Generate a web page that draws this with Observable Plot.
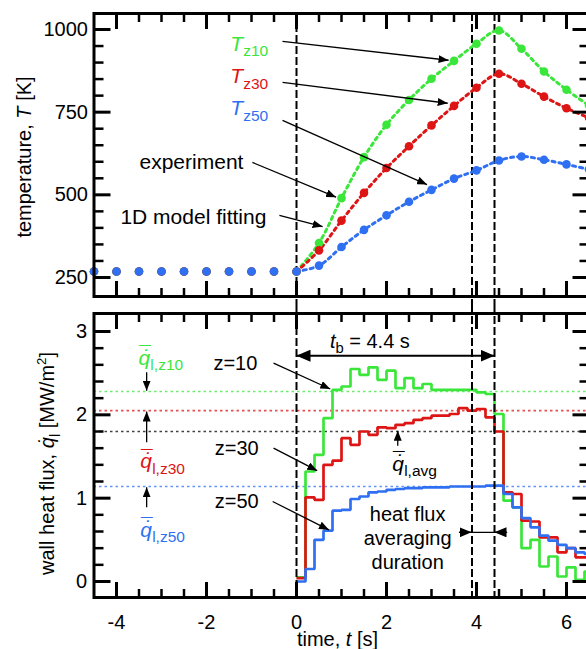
<!DOCTYPE html>
<html><head><meta charset="utf-8">
<script src="https://cdn.jsdelivr.net/npm/d3@7"></script>
<script src="https://cdn.jsdelivr.net/npm/@observablehq/plot@0.6"></script>
<style>
html,body{margin:0;padding:0;background:#fff;overflow:hidden;}
#wrap{position:relative;width:592px;height:649px;}
#wrap svg{position:absolute;left:0;max-width:none !important;overflow:visible;background:transparent;}
</style></head><body><div id="wrap"></div>
<script>
// ---------- data ----------
const tempTimes = [-4.5,-4,-3.5,-3,-2.5,-2,-1.5,-1,-0.5,0,0.5,1,1.5,2,2.5,3,3.5,4,4.5,5,5.5,6,6.5];
const tempZ10 = [268,268,268,268,268,268,268,268,268,268,354,490,614,712,787,851,905,957,997,942,873,818,770];
const tempZ30 = [268,268,268,268,268,268,268,268,268,268,332,422,506,581,647,710,769,824,866,836,797,762,733];
const tempZ50 = [268,268,268,268,268,268,268,268,268,268,286,342,394,438,479,515,549,574,604,616,606,592,577];

const stepTimes = [0,0.2,0.4,0.6,0.8,1.0,1.2,1.4,1.6,1.8,2.0,2.2,2.4,2.6,2.8,3.0,3.2,3.4,3.6,3.8,4.0,4.2,4.4,4.6,4.8,5.0,5.2,5.4,5.6,5.8,6.0,6.2,6.4,6.5];
const fluxZ10 = [0.05,1.32,1.52,1.96,2.30,2.34,2.55,2.48,2.57,2.42,2.53,2.32,2.44,2.32,2.37,2.30,2.30,2.30,2.30,2.30,2.27,2.25,2.01,0.97,0.89,0.40,0.50,0.18,0.30,0.06,0.17,0.02,0.12,0.12];
const fluxZ30 = [0.04,1.01,0.98,1.40,1.45,1.72,1.64,1.80,1.76,1.85,1.84,1.88,1.90,1.94,1.96,1.99,1.99,2.01,2.08,2.05,2.07,1.97,1.80,1.07,1.05,0.73,0.72,0.53,0.53,0.35,0.40,0.29,0.29,0.29];
const fluxZ50 = [0.00,0.15,0.50,0.61,0.85,0.86,0.99,1.02,1.07,1.08,1.10,1.11,1.12,1.12,1.13,1.13,1.13,1.14,1.14,1.14,1.14,1.15,1.15,1.05,0.89,0.76,0.65,0.55,0.49,0.44,0.40,0.35,0.33,0.33];
const avgFluxZ10 = 2.28, avgFluxZ30 = 2.05, avgFluxAll = 1.80, avgFluxZ50 = 1.14;

const markerTimes = [0, 3.9, 4.4];           // t = 0, averaging start, t_b
const xTickLabels = [-4,-2,0,2,4,6];
const xMinorTicks = [-3.5,-3,-2.5,-1.5,-1,-0.5,0.5,1,1.5,2.5,3,3.5,4.5,5,5.5,6.5];
const tempTickLabels = [250,500,750,1000];
const tempMinorTicks = [300,350,400,450,550,600,650,700,800,850,900,950];
const fluxTickLabels = [0,1,2,3];
const fluxMinorTicks = [0.2,0.4,0.6,0.8,1.2,1.4,1.6,1.8,2.2,2.4,2.6,2.8];

// ---------- annotations (data units) ----------
const tempLabelPos = [{t:-1.47,T:936,s:"*T*_{z10}"},{t:-1.47,T:837,s:"*T*_{z30}"},{t:-1.47,T:740,s:"*T*_{z50}"}];
const tempNotes = [{t:-1.18,T:598,s:"experiment"},{t:-0.67,T:431,s:"1D model fitting"}];
const tempArrows = [
  {t1:-0.31,T1:964,t2:3.38,T2:907},
  {t1:-0.31,T1:840,t2:3.36,T2:777},
  {t1:-0.31,T1:725,t2:2.90,T2:531},
  {t1:-0.98,T1:598,t2:0.88,T2:493},
  {t1:-0.38,T1:438,t2:0.58,T2:404}];

const qLabels = [{t:-3.51,q:2.60,s:"*q\u0307\u0304*_{l,z10}"},{t:-3.47,q:1.36,s:"*q\u0307\u0304*_{l,z30}"},{t:-3.47,q:0.54,s:"*q\u0307\u0304*_{l,z50}"}];
const qArrows = [{t:-3.33,q1:2.51,q2:2.29},{t:-3.33,q1:1.67,q2:2.04},{t:-3.33,q1:0.89,q2:1.13}];
const zLabels = [{t:-0.87,q:2.62,s:"z=10"},{t:-0.84,q:1.59,s:"z=30"},{t:-0.84,q:0.96,s:"z=50"}];
const zArrows = [{t1:-0.51,q1:2.62,t2:0.75,q2:2.31},{t1:-0.51,q1:1.60,t2:0.46,q2:1.33},{t1:-0.53,q1:0.96,t2:0.72,q2:0.62}];
const tbArrow = [{t1:0,t2:4.4,q:2.71}];
const tbLabel = [{t:1.63,q:2.80,s:"*t*_{b} = 4.4 s"}];
const avgSpan = [{t1:3.61,t2:4.68,q:0.59}];
const avgArrows = [{t1:3.61,t2:3.89,q:0.59},{t1:4.68,t2:4.40,q:0.59}];
const avgNote = [{t:2.47,q:0.53,s:"heat flux\naveraging\nduration"}];
const qAvgLabel = [{t:2.13,q:1.33,s:"*q\u0307\u0304*_{l,avg}"}];
const qAvgArrow = [{t:2.25,q1:1.63,q2:1.81}];

// ---------- styles ----------
const GREEN = "#3be63b", RED = "#dd1515", BLUE = "#2f6ff2";
const FONT = "'Liberation Sans', Arial, Helvetica, sans-serif";
const W = 592, ML = 93.5, MR = 3.5;
const noText = () => "";

function frameTicks(yMaj, yMin) {
  const o = {tickFormat: noText, label: null, strokeLinecap: "butt"};
  return [
    Plot.axisX(xTickLabels, {...o, anchor: "top", tickSize: -15, strokeWidth: 3}),
    Plot.axisX(xMinorTicks, {...o, anchor: "top", tickSize: -8, strokeWidth: 2.5}),
    Plot.axisX(xTickLabels, {...o, anchor: "bottom", tickSize: -15, strokeWidth: 3}),
    Plot.axisX(xMinorTicks, {...o, anchor: "bottom", tickSize: -8, strokeWidth: 2.5}),
    Plot.axisY(yMaj, {...o, anchor: "left", tickSize: -17, strokeWidth: 3}),
    Plot.axisY(yMin, {...o, anchor: "left", tickSize: -10, strokeWidth: 2.5}),
    Plot.axisY(yMaj, {...o, anchor: "right", tickSize: -17, strokeWidth: 3}),
    Plot.axisY(yMin, {...o, anchor: "right", tickSize: -10, strokeWidth: 2.5})
  ];
}

// ---------- top panel ----------
const tempSeries = [{v: tempZ10, c: GREEN}, {v: tempZ30, c: RED}, {v: tempZ50, c: BLUE}];
const tempRows = v => tempTimes.map((t, i) => ({t, T: v[i]}));
const tempColors = [GREEN, RED, BLUE];

const topPlot = Plot.plot({
  width: W, height: 305, marginTop: 13, marginBottom: 9, marginLeft: ML, marginRight: MR,
  style: {fontFamily: FONT, fontSize: "20px", background: "transparent"},
  x: {domain: [-4.5, 6.5]},
  y: {domain: [192.5, 1048.4]},
  marks: [
    Plot.ruleX(markerTimes, {stroke: "black", strokeWidth: 2, strokeDasharray: "8,3", insetBottom: -9}),
    ...tempSeries.map(s => Plot.line(tempRows(s.v).filter(d => d.t >= 0), {x: "t", y: "T", stroke: s.c, strokeWidth: 3, strokeDasharray: "3,4", curve: "catmull-rom"})),
    ...tempSeries.map(s => Plot.dot(tempRows(s.v), {x: "t", y: "T", r: 4.3, fill: s.c})),
    Plot.link(tempArrows, {x1: "t1", y1: "T1", x2: "t2", y2: "T2", stroke: "black", strokeWidth: 1.3}),
    ...tempLabelPos.map((d, i) => Plot.text([d], {x: "t", y: "T", text: "s", fill: tempColors[i], fontSize: 21, textAnchor: "start", lineAnchor: "bottom"})),
    Plot.text(tempNotes, {x: "t", y: "T", text: "s", fill: "black", fontSize: 21, textAnchor: "end", lineAnchor: "middle"}),
    Plot.axisY(tempTickLabels, {anchor: "left", tickSize: 0, tickPadding: 6, fontSize: 20, label: null, tickFormat: d => String(d)}),
    Plot.text(["temperature, *T* [K]"], {text: d => d, frameAnchor: "left", textAnchor: "middle", lineAnchor: "middle", rotate: -90, dx: -69, dy: 2, fontSize: 20}),
    ...frameTicks(tempTickLabels, tempMinorTicks),
    Plot.frame({stroke: "black", strokeWidth: 3})
  ]
});
topPlot.style.top = "0px";

// ---------- bottom panel ----------
const fluxSeries = [{v: fluxZ10, c: GREEN}, {v: fluxZ30, c: RED}, {v: fluxZ50, c: BLUE}];
const fluxRows = v => stepTimes.map((t, i) => ({t, q: v[i]}));
const avgLines = [{q: avgFluxZ10, c: GREEN}, {q: avgFluxZ30, c: RED}, {q: avgFluxAll, c: "black"}, {q: avgFluxZ50, c: BLUE}];
const qColors = [GREEN, RED, BLUE];

const bottomPlot = Plot.plot({
  width: W, height: 344, marginTop: 8, marginBottom: 52, marginLeft: ML, marginRight: MR,
  style: {fontFamily: FONT, fontSize: "20px", background: "transparent"},
  x: {domain: [-4.5, 6.5]},
  y: {domain: [-0.192, 3.216]},
  marks: [
    ...avgLines.map(a => Plot.ruleY([a.q], {stroke: a.c, strokeWidth: 1.6, strokeDasharray: "2.5,3", strokeOpacity: 0.75})),
    ...fluxSeries.map(s => Plot.line(fluxRows(s.v), {x: "t", y: "q", curve: "step-after", stroke: s.c, strokeWidth: 2.7, strokeLinejoin: "miter", strokeLinecap: "butt"})),
    Plot.ruleX(markerTimes, {stroke: "black", strokeWidth: 2, strokeDasharray: "8,3", insetTop: -8}),
    Plot.link(qArrows, {x1: "t", y1: "q1", x2: "t", y2: "q2", stroke: "black", strokeWidth: 1.3}),
    Plot.link(zArrows, {x1: "t1", y1: "q1", x2: "t2", y2: "q2", stroke: "black", strokeWidth: 1.3}),
    Plot.link(tbArrow, {x1: "t1", y1: "q", x2: "t2", y2: "q", stroke: "black", strokeWidth: 2}),
    Plot.link(avgSpan, {x1: "t1", y1: "q", x2: "t2", y2: "q", stroke: "black", strokeWidth: 1.3}),
    Plot.link(avgArrows, {x1: "t1", y1: "q", x2: "t2", y2: "q", stroke: "black", strokeWidth: 1.3}),
    Plot.link(qAvgArrow, {x1: "t", y1: "q1", x2: "t", y2: "q2", stroke: "black", strokeWidth: 1.3}),
    ...qLabels.map((d, i) => Plot.text([d], {x: "t", y: "q", text: "s", fill: qColors[i], fontSize: 21, textAnchor: "start", lineAnchor: "bottom"})),
    Plot.text(qAvgLabel, {x: "t", y: "q", text: "s", fill: "black", fontSize: 21, textAnchor: "start", lineAnchor: "bottom"}),
    Plot.text(zLabels, {x: "t", y: "q", text: "s", fill: "black", fontSize: 20, textAnchor: "end", lineAnchor: "middle"}),
    Plot.text(tbLabel, {x: "t", y: "q", text: "s", fill: "black", fontSize: 20, textAnchor: "middle", lineAnchor: "bottom"}),
    Plot.text(avgNote, {x: "t", y: "q", text: "s", fill: "black", fontSize: 20, textAnchor: "middle", lineAnchor: "middle", lineHeight: 1.2}),
    Plot.axisY(fluxTickLabels, {anchor: "left", tickSize: 0, tickPadding: 7, fontSize: 20, label: null, tickFormat: d => String(d)}),
    Plot.axisX(xTickLabels, {anchor: "bottom", tickSize: 0, tickPadding: 17, fontSize: 20, label: null, tickFormat: d => String(d)}),
    Plot.text(["wall heat flux, *q\u0307*_{l} [MW/m^{2}]"], {text: d => d, frameAnchor: "left", textAnchor: "middle", lineAnchor: "middle", rotate: -90, dx: -46, dy: 8, fontSize: 20}),
    Plot.text(["time, *t* [s]"], {text: d => d, frameAnchor: "bottom", textAnchor: "middle", lineAnchor: "middle", dx: -4, dy: 42, fontSize: 20}),
    ...frameTicks(fluxTickLabels, fluxMinorTicks),
    Plot.frame({stroke: "black", strokeWidth: 3})
  ]
});
bottomPlot.style.top = "305px";

const wrap = document.getElementById("wrap");
wrap.appendChild(topPlot);
wrap.appendChild(bottomPlot);

// ---------- arrowheads (filled markers) ----------
const NS = "http://www.w3.org/2000/svg";
function addMarkers(svg) {
  const defs = document.createElementNS(NS, "defs");
  const specs = [["ah", 10, 8], ["ahM", 12, 10], ["ahL", 14, 12]];
  for (const [id, l, w] of specs) {
    for (const rev of [false, true]) {
      const m = document.createElementNS(NS, "marker");
      m.setAttribute("id", id + (rev ? "r" : ""));
      m.setAttribute("markerUnits", "userSpaceOnUse");
      m.setAttribute("markerWidth", l);
      m.setAttribute("markerHeight", w);
      m.setAttribute("viewBox", `0 0 ${l} ${w}`);
      m.setAttribute("refX", l);
      m.setAttribute("refY", w / 2);
      m.setAttribute("orient", rev ? "auto-start-reverse" : "auto");
      const p = document.createElementNS(NS, "path");
      p.setAttribute("d", `M0,0L${l},${w / 2}L0,${w}Z`);
      p.setAttribute("fill", "black");
      m.appendChild(p);
      defs.appendChild(m);
    }
  }
  svg.insertBefore(defs, svg.firstChild);
}
addMarkers(topPlot); addMarkers(bottomPlot);
function setMarkers(svg, spec) {
  const groups = svg.querySelectorAll('g[aria-label="link"]');
  spec.forEach((s, i) => {
    if (!s || !groups[i]) return;
    groups[i].querySelectorAll("path, line").forEach(p => {
      if (s.end) p.setAttribute("marker-end", `url(#${s.end})`);
      if (s.start) p.setAttribute("marker-start", `url(#${s.start}r)`);
    });
  });
}
setMarkers(topPlot, [{end: "ah"}]);
setMarkers(bottomPlot, [{end: "ah"}, {end: "ah"}, {end: "ahL", start: "ahL"}, null, {end: "ahM"}, {end: "ah"}]);

// ---------- rich text: *italic*, _{sub}, ^{sup}, q with dot / dot+bar ----------
function richify(svg) {
  svg.querySelectorAll("text").forEach(el => {
    if (el.querySelector("tspan")) return;
    const s = el.textContent;
    if (!/[*_^\u0307]/.test(s)) return;
    const fs = parseFloat(getComputedStyle(el).fontSize) || 20;
    el.textContent = "";
    let shift = 0, pendingDx = 0;
    function span(text, {italic = false, size = null, target = 0, dx = 0} = {}) {
      const ts = document.createElementNS(NS, "tspan");
      ts.textContent = text;
      if (italic) ts.setAttribute("font-style", "italic");
      if (size) ts.setAttribute("font-size", size);
      if (target !== shift) { ts.setAttribute("dy", target - shift); shift = target; }
      const d = dx + pendingDx; pendingDx = 0;
      if (d) ts.setAttribute("dx", d);
      el.appendChild(ts);
    }
    function seg(text, o) {
      const S = o.size || fs;
      const re2 = /q\u0307(\u0304)?/g;
      let last = 0, m2;
      while ((m2 = re2.exec(text))) {
        if (m2.index > last) span(text.slice(last, m2.index), o);
        span("q", o);
        span("\u02D9", {...o, target: o.target - 0.06 * S, dx: -0.42 * S});
        if (m2[1]) {
          span("\u00AF", {...o, italic: false, target: o.target - 0.22 * S, dx: -0.44 * S});
          pendingDx = -0.02 * S;
        } else {
          pendingDx = 0.09 * S;
        }
        last = re2.lastIndex;
      }
      if (last < text.length) span(text.slice(last), o);
    }
    const re = /\*([^*]+)\*|_\{([^}]*)\}|\^\{([^}]*)\}|([^*_^]+)/g;
    let m;
    while ((m = re.exec(s))) {
      if (m[1] !== undefined) seg(m[1], {italic: true, target: 0});
      else if (m[2] !== undefined) seg(m[2], {target: 0.26 * fs, size: 0.74 * fs});
      else if (m[3] !== undefined) seg(m[3], {target: -0.4 * fs, size: 0.66 * fs});
      else seg(m[4], {target: 0});
    }
  });
}
richify(topPlot); richify(bottomPlot);
</script></body></html>
